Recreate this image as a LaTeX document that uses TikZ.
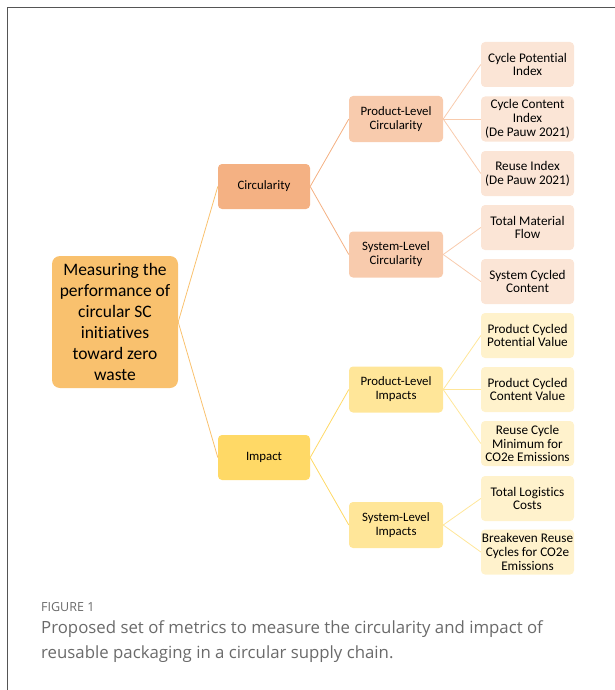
\documentclass[tikz,border=0pt]{standalone}
\usepackage{fontspec}
\setmainfont{Carlito}[Ligatures={NoCommon}]
\newfontfamily\capfont{Open Sans}
\begin{document}
\begin{tikzpicture}[x=1pt,y=-1pt,
  box/.style={rounded corners=4pt, align=center, inner sep=0pt, text=black},
  leaf/.style={box, minimum width=93pt, minimum height=45pt, font=\fontsize{13.2}{13.8}\selectfont},
  mid/.style={box, minimum width=94pt, minimum height=46pt, font=\fontsize{12.8}{14}\selectfont},
  top/.style={box, minimum width=92pt, minimum height=45pt, font=\fontsize{12.8}{14}\selectfont},
  conn/.style={line width=0.8pt}]
\definecolor{rootc}{HTML}{F9C16E}
\definecolor{circA}{HTML}{F4B183}
\definecolor{circB}{HTML}{F8CBAD}
\definecolor{circC}{HTML}{FBE5D6}
\definecolor{impA}{HTML}{FFD966}
\definecolor{impB}{HTML}{FFE699}
\definecolor{impC}{HTML}{FFF2CC}
\definecolor{capgray}{HTML}{6A6A6A}
\definecolor{framegray}{HTML}{555555}
\useasboundingbox (0,0) rectangle (614,690);
\draw[framegray, line width=1.2pt] (7.5,700) -- (7.5,7.5) -- (620,7.5);

% root
\node[box, fill=rootc, minimum width=126pt, minimum height=132pt, rounded corners=8pt,
  font=\fontsize{17.5}{21}\selectfont] (root) at (115,322)
  {Measuring the\\performance of\\circular SC\\initiatives\\toward zero\\waste};

% level 1
\node[top, fill=circA] (circ) at (264,186.5) {Circularity};
\node[top, fill=impA] (imp) at (264,457.5) {Impact};

% level 2
\node[mid, fill=circB] (plc) at (396,119) {Product-Level\\Circularity};
\node[mid, fill=circB] (slc) at (396,254.5) {System-Level\\Circularity};
\node[mid, fill=impB] (pli) at (396,389.5) {Product-Level\\Impacts};
\node[mid, fill=impB] (sli) at (396,525) {System-Level\\Impacts};

% leaves
\node[leaf, fill=circC] (l1) at (527.5,64.5) {Cycle Potential\\Index};
\node[leaf, fill=circC] (l2) at (527.5,119) {Cycle Content\\Index\\(De Pauw 2021)};
\node[leaf, fill=circC] (l3) at (527.5,173.5) {Reuse Index\\(De Pauw 2021)};
\node[leaf, fill=circC] (l4) at (527.5,227.5) {Total Material\\Flow};
\node[leaf, fill=circC] (l5) at (527.5,281.5) {System Cycled\\Content};
\node[leaf, fill=impC] (l6) at (527.5,335.5) {Product Cycled\\Potential Value};
\node[leaf, fill=impC] (l7) at (527.5,389.5) {Product Cycled\\Content Value};
\node[leaf, fill=impC] (l8) at (527.5,443.5) {Reuse Cycle\\Minimum for\\CO2e Emissions};
\node[leaf, fill=impC] (l9) at (527.5,498.5) {Total Logistics\\Costs};
\node[leaf, fill=impC] (l10) at (527.5,552) {Breakeven Reuse\\Cycles for CO2e\\Emissions};

% connectors
\draw[conn, rootc] (root.east) -- (circ.west);
\draw[conn, rootc] (root.east) -- (imp.west);
\draw[conn, circA] (circ.east) -- (plc.west);
\draw[conn, circA] (circ.east) -- (slc.west);
\draw[conn, impA] (imp.east) -- (pli.west);
\draw[conn, impA] (imp.east) -- (sli.west);
\foreach \t in {l1,l2,l3} \draw[conn, circB] (plc.east) -- (\t.west);
\foreach \t in {l4,l5} \draw[conn, circB] (slc.east) -- (\t.west);
\foreach \t in {l6,l7,l8} \draw[conn, impB] (pli.east) -- (\t.west);
\foreach \t in {l9,l10} \draw[conn, impB] (sli.east) -- (\t.west);

% caption
\node[anchor=west, inner sep=0pt, text=capgray, font=\capfont\fontsize{12.5}{14}\selectfont] (fig) at (41,607) {FIGURE 1};
\node[anchor=north west, inner sep=0pt, align=left, text=capgray, font=\capfont\fontsize{16.8}{25}\selectfont] (cap) at (41,620)
  {Proposed set of metrics to measure the circularity and impact of\\reusable packaging in a circular supply chain.};
\end{tikzpicture}
\end{document}
